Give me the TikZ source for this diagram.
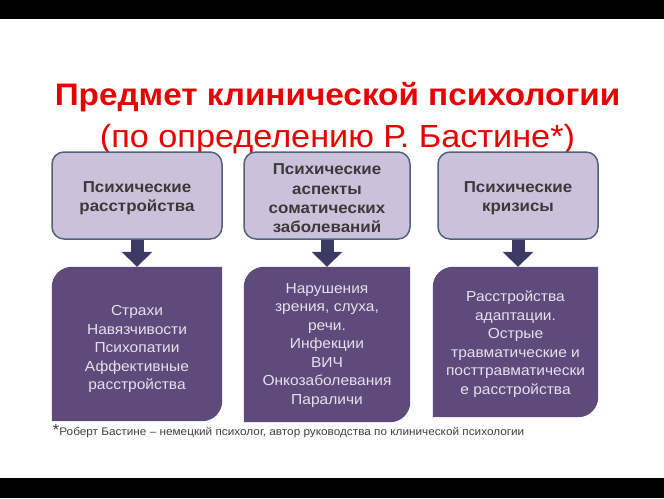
\documentclass[tikz,border=0pt]{standalone}
\usepackage{fontspec}
\setmainfont[FakeStretch=1.07]{Liberation Sans}
\usetikzlibrary{arrows.meta,backgrounds,calc}
\definecolor{lav}{HTML}{CCC1DA}
\definecolor{bordc}{HTML}{51627F}
\definecolor{purp}{HTML}{5F4B7B}
\definecolor{arrowc}{HTML}{3B3A62}
\definecolor{toptext}{HTML}{3A3A3A}
\definecolor{bottext}{HTML}{E6E0EE}
\definecolor{titlered}{HTML}{E60000}
\definecolor{foottext}{HTML}{404040}
\begin{document}
\begin{tikzpicture}[x=1pt,y=-1pt,
  topbox/.style={draw=bordc, fill=lav, line width=1.5pt, rounded corners=12pt, inner sep=0pt, minimum height=87pt},
  toptxt/.style={text=toptext, font=\bfseries\fontsize{15.8}{19.3}\selectfont, align=center, inner sep=0pt},
  botbox/.style={inner sep=0pt},
  bottxt/.style={text=bottext, font=\fontsize{14.5}{18.5}\selectfont, align=center, inner sep=0pt},
  blockarrow/.style={draw=arrowc, line width=13pt, -{Triangle[width=30pt,length=15pt]}},
  titleone/.style={text=titlered, font=\bfseries\fontsize{31.1}{36}\selectfont, inner sep=0pt},
  titletwo/.style={text=titlered, font=\fontsize{32}{36}\selectfont, inner sep=0pt},
  footstyle/.style={text=foottext, font=\fontsize{11}{13}\selectfont, inner sep=0pt}]
\useasboundingbox (0,0) rectangle (664,498);

\node[titleone, anchor=base] (t1) at (337.5,105) {Предмет клинической психологии};
\node[titletwo, anchor=base] (t2) at (337.5,147) {(по определению Р. Бастине*)};

\node[topbox, minimum width=170pt] (a1) at (137,195.5) {};
\node[topbox, minimum width=166pt] (a2) at (327,195.5) {};
\node[topbox, minimum width=160pt] (a3) at (518,195.5) {};
\node[toptxt] (a1t) at ($(a1)+(0,3)$) {Психические\\расстройства};
\node[toptxt] (a2t) at ($(a2)+(0,3)$) {Психические\\аспекты\\соматических\\заболеваний};
\node[toptxt] (a3t) at ($(a3)+(0,3)$) {Психические\\кризисы};

\node[botbox, minimum width=170pt, minimum height=154pt] (b1) at (137,344) {};
\node[botbox, minimum width=166pt, minimum height=155pt] (b2) at (327,344.5) {};
\node[botbox, minimum width=165pt, minimum height=150pt] (b3) at (515.5,342) {};
\node[bottxt] (b1t) at ($(b1)+(0,5)$) {Страхи\\Навязчивости\\Психопатии\\Аффективные\\расстройства};
\node[bottxt] (b2t) at ($(b2)+(0,1)$) {Нарушения\\зрения, слуха,\\речи.\\Инфекции\\ВИЧ\\Онкозаболевания\\Параличи};
\node[bottxt] (b3t) at ($(b3)+(0,2)$) {Расстройства\\адаптации.\\Острые\\травматические и\\посттравматически\\е расстройства};

\draw[blockarrow] (a1.south) -- (a1.south |- b1.north);
\draw[blockarrow] (a2.south) -- (a2.south |- b2.north);
\draw[blockarrow] (a3.south) -- (a3.south |- b3.north);

\node[footstyle, anchor=base west] (fn) at (52.5,435) {{\fontsize{16}{16}\selectfont *}Роберт Бастине – немецкий психолог, автор руководства по клинической психологии};

\begin{scope}[on background layer]
  \fill[white] (0,0) rectangle (664,498);
  \fill[black] (0,0) rectangle (664,19);
  \fill[black] (0,478) rectangle (664,498);
  \foreach \n in {b1,b2,b3} {
    \fill[purp] (\n.south west) -- ($(\n.north west)+(0,20)$)
      .. controls ($(\n.north west)+(0,9)$) and ($(\n.north west)+(9,0)$) .. ($(\n.north west)+(20,0)$)
      -- (\n.north east) -- ($(\n.south east)+(0,-20)$)
      .. controls ($(\n.south east)+(0,-9)$) and ($(\n.south east)+(-9,0)$) .. ($(\n.south east)+(-20,0)$)
      -- cycle;
  }
\end{scope}
\end{tikzpicture}
\end{document}
